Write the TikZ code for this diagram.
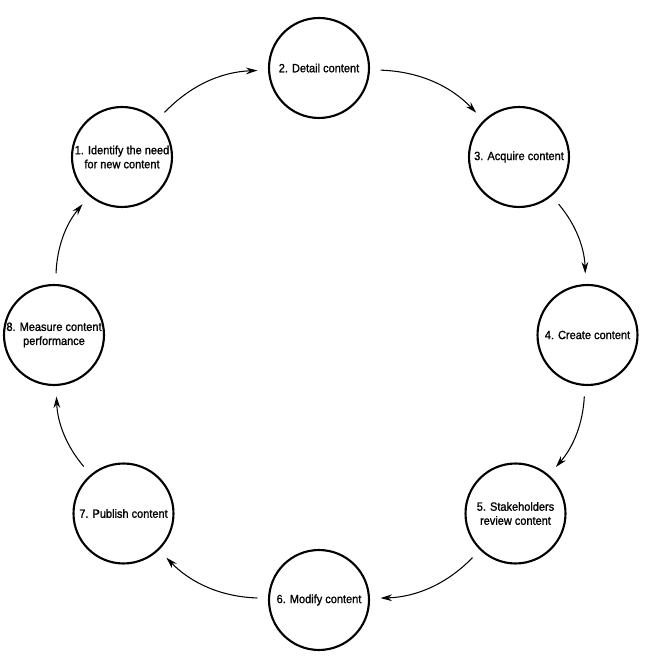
\documentclass[tikz,border=0pt]{standalone}
\usepackage{fontspec}
\setmainfont{Liberation Sans}[FakeStretch=0.92,FakeBold=1.2]
\usetikzlibrary{arrows.meta}

\begin{document}
\begin{tikzpicture}[x=0.02cm,y=0.02cm,
  stage/.style={draw,circle,line width=1.2pt,minimum size=2cm,inner sep=0pt,
    align=center,font=\fontsize{6.8}{8}\selectfont},
  flow/.style={-{Stealth[length=6.5pt,width=3.8pt]},line width=0.6pt,
    shorten <=6pt,shorten >=6pt}]
\useasboundingbox (0,0) rectangle (645,665);
% the eight stages, clockwise from the top left
\node[stage] (identify) at (122,508) {1. Identify the need\\for new content};
\node[stage] (detail) at (319,597) {2. Detail content};
\node[stage] (acquire) at (519,508) {3. Acquire content};
\node[stage] (create) at (587.5,330) {4. Create content};
\node[stage] (review) at (515.5,151.5) {5. Stakeholders\\review content};
\node[stage] (modify) at (319,65) {6. Modify content};
\node[stage] (publish) at (123.5,151.5) {7. Publish content};
\node[stage] (measure) at (54,330) {8. Measure content\\performance};
% arrows round the cycle
\draw[flow] (identify) to[bend left=22] (detail);
\draw[flow] (detail) to[bend left=22] (acquire);
\draw[flow] (acquire) to[bend left=19] (create);
\draw[flow] (create) to[bend left=19] (review);
\draw[flow] (review) to[bend left=22] (modify);
\draw[flow] (modify) to[bend left=22] (publish);
\draw[flow] (publish) to[bend left=19] (measure);
\draw[flow] (measure) to[bend left=19] (identify);
\end{tikzpicture}
\end{document}
